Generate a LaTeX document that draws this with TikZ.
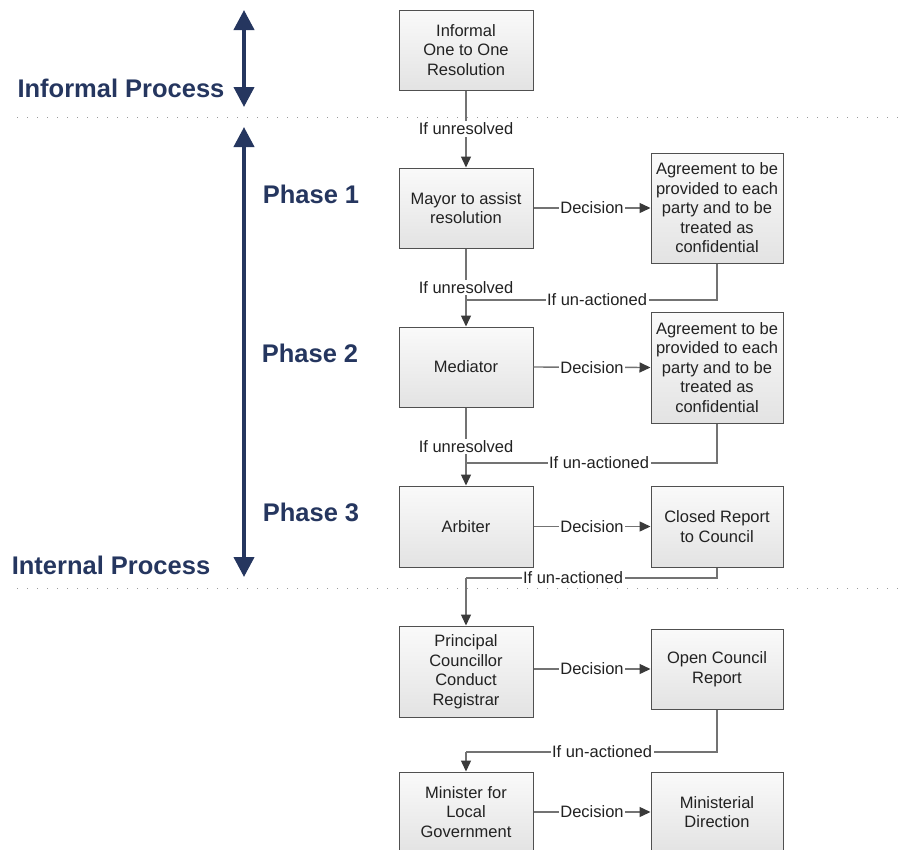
\documentclass[tikz,border=0pt]{standalone}
\usepackage{fontspec}
\setmainfont{Liberation Sans}
\usetikzlibrary{arrows.meta}
\definecolor{navy}{HTML}{25365F}
\definecolor{boxline}{HTML}{505050}
\definecolor{connc}{HTML}{737373}
\definecolor{headc}{HTML}{3A3A3A}
\definecolor{txt}{HTML}{222222}
\definecolor{dotc}{HTML}{9A9A9A}
\begin{document}
\begin{tikzpicture}[x=1pt,y=-1pt,
  box/.style={draw=boxline, line width=1pt, top color=white!98!black, bottom color=white!89!black,
    minimum width=134pt, minimum height=80pt, align=center, text=txt, inner sep=2pt,
    font=\fontsize{16.5}{19.5}\selectfont},
  rbox/.style={box, minimum width=132pt},
  lbl/.style={fill=white, inner sep=1.5pt, text=txt, font=\fontsize{16.5}{19}\selectfont},
  conn/.style={draw=connc, line width=1.4pt},
  arr/.style={conn, -{Triangle[length=11pt,width=10pt,color=headc]}},
  big/.style={draw=navy, line width=4pt},
  head/.style={text=navy, font=\fontsize{25.5}{30}\selectfont\bfseries, inner sep=0pt},
  sep/.style={draw=dotc, line width=1pt, dash pattern=on 1pt off 9pt}
]
\useasboundingbox (0,0) rectangle (907,849);

% separators
\coordinate (d1a) at (17,117); \coordinate (d1b) at (907,117);
\coordinate (d2a) at (17,588); \coordinate (d2b) at (907,588);
\draw[sep] (d1a) -- (d1b);
\draw[sep] (d2a) -- (d2b);

% big arrows
\coordinate (b1t) at (244,10); \coordinate (b1b) at (244,107);
\coordinate (b2t) at (244,127); \coordinate (b2b) at (244,577);
\draw[big, {Triangle[length=20pt,width=20pt]}-{Triangle[length=20pt,width=20pt]}] (b1t) -- (b1b);
\draw[big, {Triangle[length=20pt,width=20pt]}-{Triangle[length=20pt,width=20pt]}] (b2t) -- (b2b);

% headings
\node[head] (hinf) at (121,88) {Informal Process};
\node[head] (hp1) at (311,194) {Phase 1};
\node[head] (hp2) at (310,353) {Phase 2};
\node[head] (hp3) at (311,512) {Phase 3};
\node[head] (hint) at (111,565) {Internal Process};

% left column
\node[box] (inf) at (466,50) {Informal\\One to One\\Resolution};
\node[box] (mayor) at (466,208) {Mayor to assist\\resolution};
\node[box] (med) at (466,367) {Mediator};
\node[box, minimum height=81pt] (arb) at (466,526.5) {Arbiter};
\node[box, minimum height=91pt] (prin) at (466,671.5) {Principal\\Councillor\\Conduct\\Registrar};
\node[box] (mini) at (466,812) {Minister for\\Local\\Government};

% right column
\node[rbox, minimum height=110pt] (agr1) at (717,208) {Agreement to be\\provided to each\\party and to be\\treated as\\confidential};
\node[rbox, minimum height=111pt] (agr2) at (717,367.5) {Agreement to be\\provided to each\\party and to be\\treated as\\confidential};
\node[rbox, minimum height=81pt] (closed) at (717,526.5) {Closed Report\\to Council};
\node[rbox] (open) at (717,669) {Open Council\\Report};
\node[rbox] (mdir) at (717,812) {Ministerial\\Direction};

% vertical flow
\draw[arr] (inf) -- node[lbl] (u0) {If unresolved} (mayor);
\draw[arr] (mayor) -- node[lbl] (u1) {If unresolved} (med);
\draw[arr] (med) -- node[lbl] (u2) {If unresolved} (arb);

% decisions
\draw[arr] (mayor.east) -- node[lbl] (dc1) {Decision} (agr1.west);
\draw[arr] (med.east) -- node[lbl] (dc2) {Decision} (agr2.west);
\draw[arr] (arb.east) -- node[lbl] (dc3) {Decision} (closed.west);
\draw[arr] (prin.east |- open.west) -- node[lbl] (dc4) {Decision} (open.west);
\draw[arr] (mini.east) -- node[lbl] (dc5) {Decision} (mdir.west);

% un-actioned returns
\coordinate (j1) at (466,300);
\coordinate (j2) at (466,463);
\coordinate (j3) at (466,578);
\coordinate (j4) at (466,752);
\draw[conn] (agr1.south) |- (j1);
\node[lbl] (a1) at (597,300) {If un-actioned};
\draw[conn] (agr2.south) |- (j2);
\node[lbl] (a2) at (599,463) {If un-actioned};
\draw[conn] (closed.south) |- (j3);
\draw[arr] (j3) -- (prin.north);
\node[lbl] (a3) at (573,578) {If un-actioned};
\draw[conn] (open.south) |- (j4);
\draw[arr] (j4) -- (mini.north);
\node[lbl] (a4) at (602,752) {If un-actioned};
\end{tikzpicture}
\end{document}
